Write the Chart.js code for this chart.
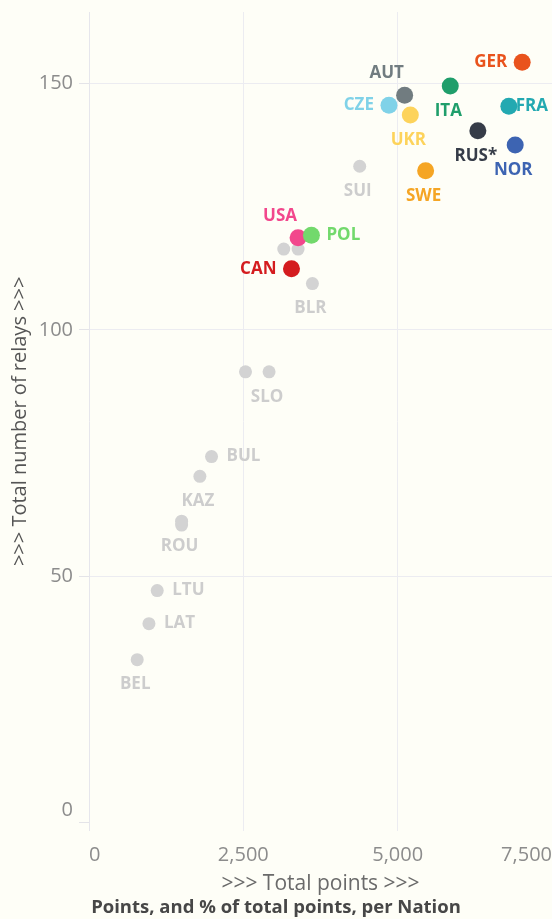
<!DOCTYPE html>
<html>
<head>
<meta charset="utf-8">
<script src="https://cdn.jsdelivr.net/npm/chart.js@4.4.0/dist/chart.umd.min.js"></script>
<style>
  html, body { margin: 0; padding: 0; background: #fefef7; }
  #wrap { width: 552px; height: 919px; }
</style>
</head>
<body>
<div id="wrap"><canvas id="chart"></canvas></div>
<script>
// Nations (unnamed grey dots first so the coloured ones sit on top)
const nations = ['', '', '', '', 'SUI', 'BLR', 'SLO', 'BUL', 'KAZ', 'ROU', 'LTU', 'LAT', 'BEL',
  'GER', 'AUT', 'ITA', 'CZE', 'UKR', 'FRA', 'RUS*', 'NOR', 'SWE', 'USA', 'POL', 'CAN'];
// Total points per nation
const totalPoints = [3155, 3387, 2535, 1500, 4385, 3619, 2917, 1985, 1796, 1500, 1105, 971, 781,
  7017, 5113, 5852, 4859, 5205, 6801, 6299, 6904, 5453, 3387, 3603, 3280];
// Total number of relays per nation
const totalRelays = [116.4, 116.4, 91.5, 60.4, 133.2, 109.4, 91.5, 74.3, 70.3, 61.2, 47.1, 40.4, 33.1,
  154.3, 147.6, 149.5, 145.6, 143.6, 145.4, 140.4, 137.5, 132.3, 118.7, 119.2, 112.4];

const xTicks = [0, 2500, 5000, 7500];
const yTicks = [0, 50, 100, 150];

// Styling
const FONT = "'Open Sans', sans-serif";
const GREY_DOT = '#d3d3d3';
const GREY_LABEL = '#cdcdcd';
const highlight = {
  'GER': '#e9531d', 'AUT': '#717c80', 'ITA': '#1f9e6b', 'CZE': '#80d2e8',
  'UKR': '#fdd35b', 'FRA': '#23a9b1', 'RUS*': '#363c48', 'NOR': '#3d64b2',
  'SWE': '#f5a524', 'USA': '#f2478c', 'POL': '#72d96c', 'CAN': '#d41c1f'
};
// where each label sits relative to its dot
const labelPlace = {
  'GER': 'left', 'AUT': 'aboveLeft', 'ITA': 'below', 'CZE': 'left', 'UKR': 'below',
  'FRA': 'right', 'RUS*': 'below', 'NOR': 'below', 'SWE': 'below', 'SUI': 'below',
  'USA': 'aboveLeft', 'POL': 'right', 'CAN': 'left', 'BLR': 'below', 'SLO': 'below',
  'BUL': 'right', 'KAZ': 'below', 'ROU': 'below', 'LTU': 'right', 'LAT': 'right', 'BEL': 'below'
};

const points = totalPoints.map((v, i) => ({ x: v, y: totalRelays[i] }));

// Draws the nation code next to each dot
const nationLabels = {
  id: 'nationLabels',
  afterDatasetsDraw(chart) {
    const { ctx, chartArea } = chart;
    const meta = chart.getDatasetMeta(0);
    ctx.save();
    ctx.font = 'bold 17px ' + FONT;
    ctx.textBaseline = 'middle';
    ctx.textAlign = 'left';
    meta.data.forEach((pt, i) => {
      const name = nations[i];
      if (!name) return;
      const place = labelPlace[name] || 'below';
      const w = ctx.measureText(name).width;
      let x = pt.x, y = pt.y;
      if (place === 'left') {
        x = pt.x - 15 - w;
      } else if (place === 'right') {
        x = Math.min(pt.x + 15, chartArea.right - 4 - w);
      } else if (place === 'below') {
        x = pt.x - 2 - w / 2; y = pt.y + 25;
      } else if (place === 'aboveLeft') {
        x = pt.x - 18 - w / 2; y = pt.y - 22;
      }
      ctx.fillStyle = highlight[name] || GREY_LABEL;
      ctx.fillText(name, x, y);
    });
    ctx.restore();
  }
};

const gridColour = c => (c.tick && c.tick.value === 0) ? 'rgba(0,0,0,0)' : '#ececf1';

new Chart(document.getElementById('chart'), {
  type: 'scatter',
  data: {
    datasets: [{
      data: points,
      pointRadius: c => highlight[nations[c.dataIndex]] ? 8.5 : 6.5,
      pointBackgroundColor: c => highlight[nations[c.dataIndex]] || GREY_DOT,
      pointBorderWidth: 0,
      pointHoverRadius: c => highlight[nations[c.dataIndex]] ? 8.5 : 6.5
    }]
  },
  options: {
    responsive: true,
    maintainAspectRatio: false,
    animation: false,
    layout: { autoPadding: false, padding: { top: 12, left: 0, right: 0, bottom: 0 } },
    plugins: {
      legend: { display: false },
      tooltip: { enabled: false },
      title: {
        display: true,
        position: 'bottom',
        text: 'Points, and % of total points, per Nation',
        color: '#474747',
        font: { family: FONT, size: 18.5, weight: 'bold', lineHeight: 1.1 },
        padding: { top: 3, bottom: 1 }
      }
    },
    scales: {
      x: {
        type: 'linear',
        min: 0,
        max: 7500,
        afterBuildTicks: s => { s.ticks = xTicks.map(v => ({ value: v })); },
        afterFit: s => { s.height = 64; s.paddingLeft = 0; s.paddingRight = 0; },
        grid: { color: gridColour, drawTicks: false },
        border: { display: false },
        ticks: {
          align: 'inner',
          padding: 13,
          color: '#8c8c8c',
          font: { family: FONT, size: 20 },
          callback: v => v.toLocaleString('en-US')
        },
        title: {
          display: true,
          text: '>>> Total points >>>',
          color: '#6a6a6a',
          font: { family: FONT, size: 21, lineHeight: 1 },
          padding: 0
        }
      },
      y: {
        type: 'linear',
        min: -1.6,
        max: 164.5,
        afterBuildTicks: s => { s.ticks = yTicks.map(v => ({ value: v })); },
        afterFit: s => { s.width = 89; s.paddingTop = 0; s.paddingBottom = 0; },
        grid: { color: gridColour, tickColor: '#e4e4e8', tickLength: 10 },
        border: { display: true, color: '#e6e6ec' },
        ticks: {
          padding: 6,
          color: '#8c8c8c',
          font: { family: FONT, size: 20 },
          callback: v => v === 0 ? ['0', ''] : v
        },
        title: {
          display: true,
          text: '>>> Total number of relays >>>',
          color: '#555555',
          font: { family: FONT, size: 20 },
          padding: { top: 8, bottom: 0 }
        }
      }
    }
  },
  plugins: [nationLabels]
});
</script>
</body>
</html>
